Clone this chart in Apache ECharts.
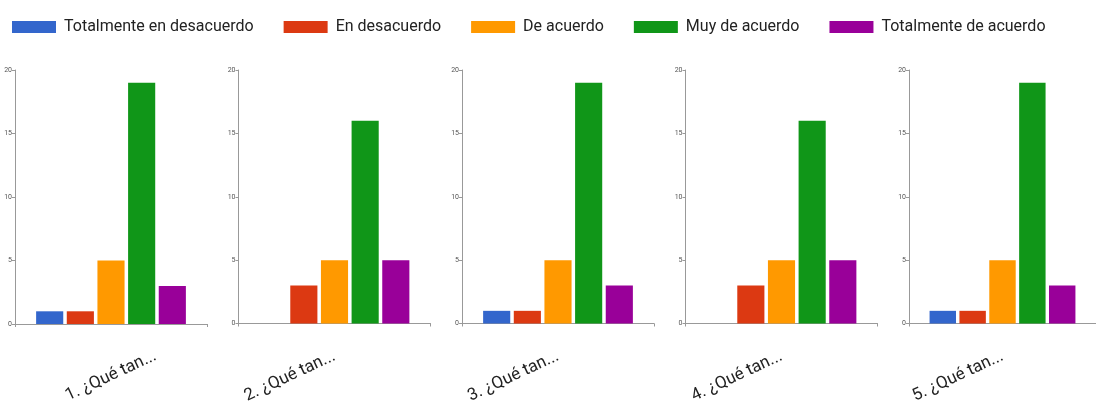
<!DOCTYPE html>
<html>
<head>
<meta charset="utf-8">
<script src="https://cdn.jsdelivr.net/npm/echarts@6/dist/echarts.min.js"></script>
<style>
  html, body { margin: 0; padding: 0; background: #fff; }
  #chart { width: 1096px; height: 406px; }
</style>
</head>
<body>
<div id="chart"></div>
<script>
// Survey questions (one small chart per question)
const questions = ['1. ¿Qué tan...', '2. ¿Qué tan...', '3. ¿Qué tan...', '4. ¿Qué tan...', '5. ¿Qué tan...'];
// Answer options (legend entries)
const answers = ['Totalmente en desacuerdo', 'En desacuerdo', 'De acuerdo', 'Muy de acuerdo', 'Totalmente de acuerdo'];
const answerColors = ['#3366cc', '#dc3912', '#ff9900', '#109618', '#990099'];
// Response counts per answer option, one entry per question
const totalmenteEnDesacuerdo = [1, 0, 1, 0, 1];
const enDesacuerdo = [1, 3, 1, 3, 1];
const deAcuerdo = [5, 5, 5, 5, 5];
const muyDeAcuerdo = [19, 16, 19, 16, 19];
const totalmenteDeAcuerdo = [3, 5, 3, 5, 3];
const yTicks = [0, 5, 10, 15, 20];

const counts = [totalmenteEnDesacuerdo, enDesacuerdo, deAcuerdo, muyDeAcuerdo, totalmenteDeAcuerdo];

const font = 'Roboto, "Noto Sans", sans-serif';
const grids = [], xAxes = [], yAxes = [], series = [];

questions.forEach((q, qi) => {
  grids.push({ left: 15 + qi * 223.5, top: 70, width: 192, height: 254 });
  // the first question's label sits centred under its bars
  const label = qi === 0
    ? { rotate: 25, margin: 52, align: 'center', verticalAlign: 'middle' }
    : { rotate: 25, margin: 32 };
  xAxes.push({
    type: 'category', gridIndex: qi, data: [q],
    axisLine: { lineStyle: { color: '#999', width: 1 } },
    axisTick: { show: true, length: 3, lineStyle: { color: '#999' } },
    axisLabel: Object.assign({ fontSize: 17, color: '#222', fontFamily: font }, label)
  });
  yAxes.push({
    type: 'value', gridIndex: qi, min: yTicks[0], max: yTicks[yTicks.length - 1], interval: 5,
    axisLine: { show: true, lineStyle: { color: '#999', width: 1 } },
    axisTick: { show: true, length: 3, lineStyle: { color: '#999' } },
    splitLine: { show: false },
    axisLabel: { fontSize: 7, color: '#555', margin: 3, fontFamily: font }
  });
  answers.forEach((a, ai) => {
    series.push({
      type: 'bar', name: a, xAxisIndex: qi, yAxisIndex: qi,
      data: [counts[ai][qi]],
      itemStyle: { color: answerColors[ai] },
      barCategoryGap: '22%', barGap: '13%',
      silent: true
    });
  });
});

const chart = echarts.init(document.getElementById('chart'), null, { renderer: 'canvas' });
chart.setOption({
  animation: false,
  backgroundColor: '#fff',
  color: answerColors,
  legend: {
    data: answers, left: 7, top: 14,
    itemWidth: 44, itemHeight: 12, itemGap: 30,
    icon: 'rect',
    textStyle: { fontSize: 16, color: '#222', fontFamily: font, padding: [0, 0, 0, 3] }
  },
  grid: grids, xAxis: xAxes, yAxis: yAxes, series: series
});
</script>
</body>
</html>
